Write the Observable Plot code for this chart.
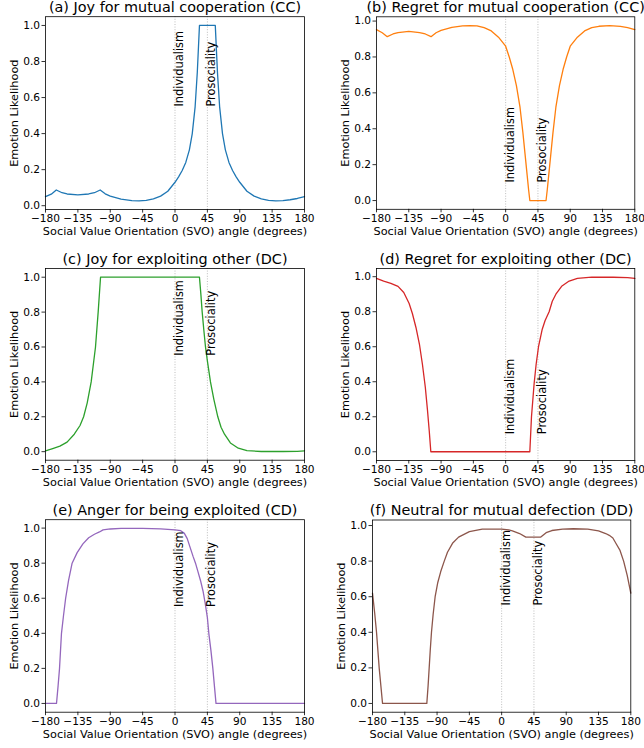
<!DOCTYPE html>
<html><head><meta charset="utf-8">
<script src="https://cdn.jsdelivr.net/npm/d3@7"></script>
<script src="https://cdn.jsdelivr.net/npm/@observablehq/plot@0.6"></script>
<style>
html,body{margin:0;padding:0;background:#fff;overflow:hidden}
#fig{position:relative;width:644px;height:748px;overflow:hidden;background:#fff}
#fig svg{position:absolute;overflow:visible;background:transparent}
</style></head><body><div id="fig"></div>
<script>
// ---------- data ----------
const titles = [
  "(a) Joy for mutual cooperation (CC)",
  "(b) Regret for mutual cooperation (CC)",
  "(c) Joy for exploiting other (DC)",
  "(d) Regret for exploiting other (DC)",
  "(e) Anger for being exploited (CD)",
  "(f) Neutral for mutual defection (DD)"
];
const colors = ["#1f77b4", "#ff7f0e", "#2ca02c", "#d62728", "#9467bd", "#8c564b"];
const xTicks = [-180, -135, -90, -45, 0, 45, 90, 135, 180];
const yTicks = [0, 0.2, 0.4, 0.6, 0.8, 1.0];
const refLines = [0, 45];
const refLabels = ["Individualism", "Prosociality"];
const refLabelY = [0.55, 0.1, 0.55, 0.1, 0.55, 0.55];
const xLabel = "Social Value Orientation (SVO) angle (degrees)";
const yLabel = "Emotion Likelihood";

const xA = [-180,-172,-165,-157,-150,-135,-120,-112,-104,-97,-90,-75,-60,-50,-40,-30,-20,-10,0,5,10,15,20,24,28,31,34,56,59,62,66,70,75,80,85,90,100,110,120,130,140,150,160,170,180];
const yA = [0.050,0.064,0.087,0.072,0.065,0.060,0.065,0.072,0.087,0.066,0.053,0.036,0.028,0.027,0.030,0.038,0.053,0.080,0.130,0.160,0.195,0.240,0.310,0.400,0.550,0.740,1.0,1.0,0.740,0.550,0.400,0.310,0.240,0.195,0.160,0.130,0.080,0.053,0.038,0.030,0.027,0.028,0.033,0.040,0.050];

const xB = [-180,-172,-165,-157,-150,-135,-120,-112,-104,-97,-90,-75,-60,-50,-40,-30,-20,-10,0,5,10,15,20,24,27,30,32,33.7,56.3,58,60,63,66,70,75,80,85,90,100,110,120,130,145,160,170,180];
const yB = [0.952,0.935,0.913,0.928,0.936,0.942,0.936,0.928,0.913,0.935,0.948,0.965,0.973,0.975,0.973,0.963,0.945,0.910,0.860,0.800,0.730,0.640,0.520,0.380,0.260,0.140,0.060,0,0,0.060,0.140,0.260,0.380,0.520,0.640,0.730,0.800,0.860,0.910,0.945,0.963,0.971,0.975,0.970,0.963,0.952];

const xC = [-180,-170,-160,-150,-140,-132,-127,-122,-116.5,-110.5,-106.8,-103.5,34,36,37.8,40,42.4,45,49.3,54,59.5,64,68.8,77,88,100,120,150,170,180];
const yC = [0.005,0.018,0.032,0.055,0.100,0.150,0.200,0.280,0.400,0.600,0.800,1.0,1.0,0.900,0.800,0.700,0.600,0.520,0.400,0.300,0.200,0.140,0.100,0.050,0.020,0.006,0.001,0.001,0.002,0.005];

const xD = [-180,-170,-160,-150,-142,-134.5,-130,-125,-120,-116,-112,-109,-106.5,-104.3,33.7,36,39.7,42.5,45.8,51,55,60.6,65,70,78,88.5,100,120,150,170,180];
const yD = [0.990,0.975,0.962,0.945,0.910,0.847,0.790,0.710,0.610,0.500,0.370,0.240,0.120,0,0,0.200,0.390,0.500,0.600,0.700,0.750,0.800,0.860,0.900,0.945,0.975,0.990,0.997,0.997,0.995,0.990];

const xE = [-180,-164.7,-162.5,-160.5,-157.8,-155,-152,-148,-143,-136,-128,-120,-112,-105,-100,-90,-75,-45,-20,0,8,13,17,21,25,28.5,32,35.5,39,42,45,47,50,52.6,55,57,180];
const yE = [0,0,0.100,0.200,0.400,0.500,0.600,0.700,0.800,0.860,0.910,0.945,0.965,0.978,0.990,0.995,0.998,0.998,0.996,0.990,0.985,0.970,0.940,0.890,0.840,0.800,0.750,0.700,0.640,0.570,0.490,0.400,0.300,0.200,0.090,0,0];

const xF = [-180,-177,-174.4,-170.7,-166,-104.3,-102.5,-101,-99.5,-97.8,-95.5,-92.7,-89,-85,-80,-75.5,-68.5,-60,-45,-27,0,10,15,25,33.7,54.6,62,70,85,100,120,135,145,150,155,160,165,170,175,180];
const yF = [0.620,0.510,0.400,0.200,0,0,0.100,0.200,0.300,0.400,0.500,0.600,0.680,0.740,0.800,0.850,0.900,0.935,0.966,0.980,0.980,0.975,0.970,0.955,0.935,0.935,0.960,0.972,0.980,0.982,0.980,0.970,0.955,0.945,0.930,0.895,0.860,0.800,0.720,0.620];

// ---------- layout (styles) ----------
const layout = [
  {left: 0,   top: 0,   mL: 45, mR: 18,  mT: 16.2, mB: 40.9},
  {left: 322, top: 0,   mL: 54, mR: 9.7, mT: 16.3, mB: 41.2},
  {left: 0,   top: 250, mL: 45, mR: 18,  mT: 18,   mB: 40.3},
  {left: 322, top: 250, mL: 54, mR: 9.7, mT: 18,   mB: 40},
  {left: 0,   top: 498, mL: 45, mR: 18,  mT: 21.2, mB: 36.3},
  {left: 322, top: 498, mL: 50, mR: 13.7, mT: 21.5, mB: 36.3}
];

const series = [[xA, yA], [xB, yB], [xC, yC], [xD, yD], [xE, yE], [xF, yF]];
const fig = document.getElementById("fig");
const FONT = "DejaVu Sans, sans-serif";

series.forEach(([xs, ys], i) => {
  const L = layout[i];
  const rows = xs.map((x, j) => ({x, y: ys[j]}));
  const lo = d3.min(ys), hi = d3.max(ys), pad = 0.05 * (hi - lo);
  const ann = refLabels.map((t, k) => ({x: refLines[k], y: refLabelY[i], t}));
  const chart = Plot.plot({
    width: 322, height: 250,
    marginLeft: L.mL, marginRight: L.mR, marginTop: L.mT, marginBottom: L.mB,
    style: {fontFamily: FONT, fontSize: "10.6px", background: "transparent", color: "black"},
    x: {domain: [-180, 180], label: null},
    y: {domain: [lo - pad, hi + pad], label: null},
    marks: [
      Plot.ruleX(refLines, {stroke: "#b5b5b5", strokeWidth: 0.9, strokeDasharray: "1,1.6"}),
      Plot.line(rows, {x: "x", y: "y", stroke: colors[i], strokeWidth: 1.3}),
      Plot.text(ann, {x: "x", y: "y", text: "t", rotate: -90, textAnchor: "start", lineAnchor: "top", fontSize: 11.4, fill: "black"}),
      Plot.axisX({ticks: xTicks, tickSize: 3.5, tickPadding: 1.8, strokeWidth: 0.8, fontSize: 10.6, label: null, tickFormat: d3.format("d")}),
      Plot.axisY({ticks: yTicks, tickSize: 3.5, tickPadding: 2, strokeWidth: 0.8, fontSize: 10.6, label: null, tickFormat: d3.format(".1f")}),
      Plot.frame({stroke: "black", strokeWidth: 0.8}),
      Plot.text([titles[i]], {text: d => d, frameAnchor: "top", dy: -5, lineAnchor: "bottom", fontSize: 14.4, fill: "black"}),
      Plot.text([xLabel], {text: d => d, frameAnchor: "bottom", dy: 25.5, lineAnchor: "bottom", fontSize: 11.3, fill: "black"}),
      Plot.text([yLabel], {text: d => d, frameAnchor: "left", dx: -28, rotate: -90, lineAnchor: "bottom", textAnchor: "middle", fontSize: 11.3, fill: "black"})
    ]
  });
  chart.style.left = L.left + "px";
  chart.style.top = L.top + "px";
  fig.appendChild(chart);
});
</script>
</body></html>
